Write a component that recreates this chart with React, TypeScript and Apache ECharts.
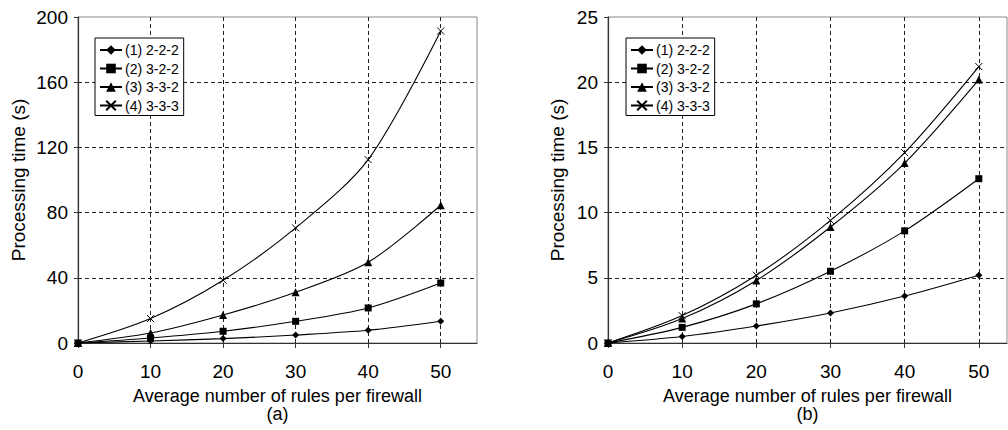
import React, { useEffect, useRef } from "react";
import * as echarts from "echarts";

const xValues = [0, 10, 20, 30, 40, 50];
const seriesNames = ["(1) 2-2-2", "(2) 3-2-2", "(3) 3-3-2", "(4) 3-3-3"];

// Chart (a)
const a1 = [0, 1.2, 2.7, 4.9, 7.8, 13.3];
const a2 = [0, 3.1, 7.2, 13.3, 21.5, 36.8];
const a3 = [0, 6.1, 17.2, 31.1, 49.5, 84.5];
const a4 = [0, 15.0, 38.5, 70.6, 112.5, 191.4];

// Chart (b)
const b1 = [0, 0.5, 1.3, 2.3, 3.6, 5.2];
const b2 = [0, 1.2, 3.0, 5.5, 8.6, 12.6];
const b3 = [0, 1.87, 4.8, 8.9, 13.8, 20.2];
const b4 = [0, 2.1, 5.2, 9.4, 14.6, 21.2];

const xTitle = "Average number of rules per firewall";
const panelLabels = ["(a)", "(b)"];

const FONT = "'Liberation Sans', Arial, sans-serif";
const symbols = [
  "diamond",
  "rect",
  "triangle",
  "path://M0,0L10,10M10,0L0,10",
];
const symbolSizes = [7, 7, 8, 7];

function makeSeries(vals: number[][], axisIndex: number) {
  return vals.map((v, i) => ({
    name: seriesNames[i],
    type: "line",
    xAxisIndex: axisIndex,
    yAxisIndex: axisIndex,
    data: xValues.map((x, k) => [x, v[k]]),
    smooth: 0.3,
    symbol: symbols[i],
    symbolSize: symbolSizes[i],
    showAllSymbol: true,
    lineStyle: { color: "#000", width: 1.1 },
    itemStyle:
      i === 3
        ? { color: "#000", borderColor: "#000", borderWidth: 1 }
        : { color: "#000", borderWidth: 0 },
    emphasis: { disabled: true },
    z: 3 + i,
  }));
}

function xAxis(gridIndex: number, max: number) {
  return {
    type: "value",
    gridIndex,
    min: 0,
    max,
    interval: 10,
    name: xTitle + "\n" + panelLabels[gridIndex],
    nameLocation: "middle",
    nameGap: 44,
    nameTextStyle: { fontFamily: FONT, fontSize: 18, lineHeight: 18, color: "#000", align: "center" },
    axisLine: { show: true, onZero: false, lineStyle: { color: "#333", width: 1.2 } },
    axisTick: { show: true, length: 5, lineStyle: { color: "#333" } },
    axisLabel: {
      fontFamily: FONT,
      fontSize: 19,
      color: "#000",
      margin: 19,
      showMaxLabel: false,
    },
    splitLine: {
      show: true,
      showMaxLine: false,
      lineStyle: { color: "#222", type: [4, 3], width: 1 },
    },
  };
}

function yAxis(gridIndex: number, max: number, interval: number, gap: number) {
  return {
    type: "value",
    gridIndex,
    min: 0,
    max,
    interval,
    name: "Processing time (s)",
    nameLocation: "middle",
    nameGap: gap,
    nameRotate: 90,
    nameTextStyle: { fontFamily: FONT, fontSize: 19, color: "#000" },
    axisLine: { show: true, lineStyle: { color: "#333", width: 1.2 } },
    axisTick: { show: true, length: 4, lineStyle: { color: "#333" } },
    axisLabel: { fontFamily: FONT, fontSize: 19, color: "#000", margin: 10 },
    splitLine: {
      show: true,
      showMaxLine: false,
      lineStyle: { color: "#222", type: [4, 3], width: 1 },
    },
  };
}

function legend(left: number) {
  return {
    orient: "vertical",
    left,
    top: 38,
    data: seriesNames,
    itemWidth: 22,
    itemHeight: 12,
    itemGap: 4.5,
    padding: [5, 5, 3, 4],
    borderColor: "#000",
    borderWidth: 1,
    backgroundColor: "#fff",
    textStyle: { fontFamily: FONT, fontSize: 14, color: "#000", padding: [0, 0, 0, -2] },
    selectedMode: false,
  };
}

export default function App() {
  const ref = useRef<HTMLDivElement>(null);
  useEffect(() => {
    if (!ref.current) return;
    const chart = echarts.init(ref.current, undefined, { renderer: "svg" });
    chart.setOption({
      animation: false,
      backgroundColor: "#fff",
      grid: [
        { left: 78, top: 17, width: 399, height: 326, show: true, borderColor: "#888", borderWidth: 1, backgroundColor: "transparent" },
        { left: 608, top: 17, width: 399, height: 326, show: true, borderColor: "#888", borderWidth: 1, backgroundColor: "transparent" },
      ],
      xAxis: [xAxis(0, 55), xAxis(1, 53.8)],
      yAxis: [yAxis(0, 200, 40, 50), yAxis(1, 25, 5, 41)],
      legend: [legend(95), legend(626)],
      series: [...makeSeries([a1, a2, a3, a4], 0), ...makeSeries([b1, b2, b3, b4], 1)],
    });
    return () => chart.dispose();
  }, []);
  return (
    <div
      ref={ref}
      style={{ position: "absolute", left: 0, top: 0, width: 1008, height: 430, background: "#fff" }}
    />
  );
}
